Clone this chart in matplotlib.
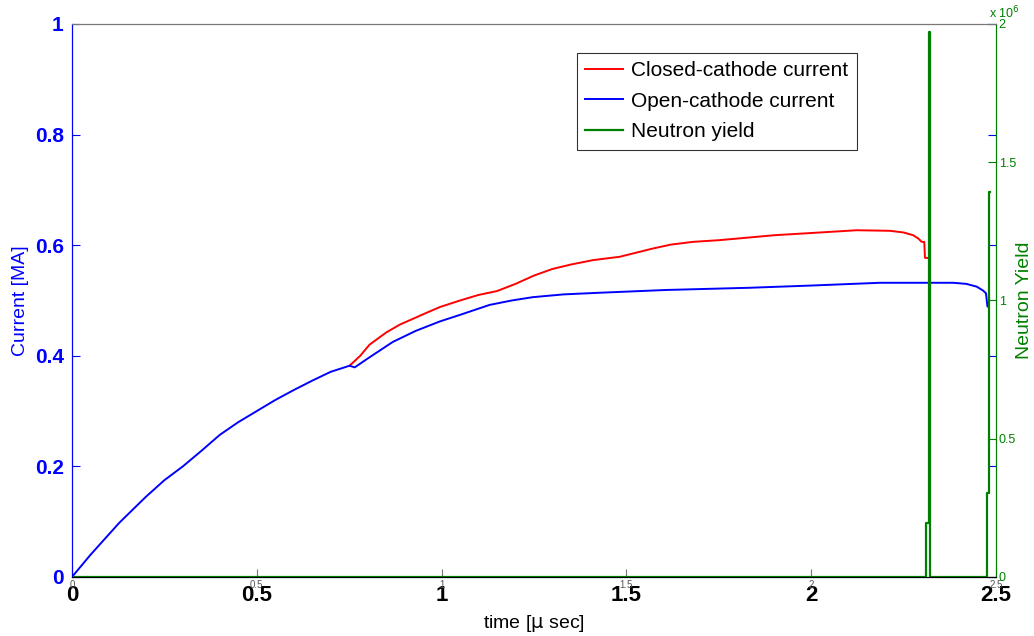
import numpy as np
import matplotlib
matplotlib.use('Agg')
import matplotlib.pyplot as plt

plt.rcParams['font.family'] = ['Liberation Sans', 'DejaVu Sans']

# ── Data ─────────────────────────────────────────────────────────────────────
t_open = [0.0, 0.05, 0.128, 0.2, 0.25, 0.30, 0.35, 0.40, 0.45, 0.50, 0.55,
          0.60, 0.65, 0.70, 0.751, 0.765, 0.80, 0.868, 0.93, 0.995, 1.05,
          1.13, 1.19, 1.247, 1.33, 1.428, 1.50, 1.608, 1.834, 2.0, 2.186,
          2.384, 2.42, 2.448, 2.465, 2.473, 2.477, 2.48]
i_open = [0.0, 0.04, 0.098, 0.145, 0.175, 0.20, 0.228, 0.257, 0.28, 0.30,
          0.32, 0.338, 0.355, 0.371, 0.382, 0.379, 0.395, 0.425, 0.445,
          0.462, 0.474, 0.492, 0.500, 0.506, 0.511, 0.514, 0.516, 0.519,
          0.523, 0.527, 0.532, 0.532, 0.530, 0.525, 0.518, 0.513, 0.489, 0.489]

t_closed = [0.751, 0.78, 0.805, 0.85, 0.886, 0.95, 0.995, 1.05, 1.10, 1.15,
            1.20, 1.25, 1.30, 1.35, 1.41, 1.482, 1.53, 1.572, 1.62, 1.68,
            1.75, 1.834, 1.90, 2.0, 2.123, 2.213, 2.25, 2.276, 2.29, 2.299,
            2.306, 2.308, 2.316]
i_closed = [0.382, 0.40, 0.42, 0.442, 0.456, 0.475, 0.488, 0.50, 0.51, 0.517,
            0.53, 0.545, 0.557, 0.565, 0.573, 0.579, 0.587, 0.594, 0.601,
            0.606, 0.609, 0.614, 0.618, 0.622, 0.627, 0.626, 0.623, 0.618,
            0.612, 0.606, 0.606, 0.577, 0.577]

t_neutron = [0.0, 2.310, 2.320, 2.321, 2.477, 2.481, 2.483]
y_neutron = [0.0, 0.194e6, 1.972e6, 0.0, 0.303e6, 1.391e6, 1.391e6]

x_ticks = [0, 0.5, 1, 1.5, 2, 2.5]
x_ticklabels = ['0', '0.5', '1', '1.5', '2', '2.5']
y_ticks = [0, 0.2, 0.4, 0.6, 0.8, 1]
y_ticklabels = ['0', '0.2', '0.4', '0.6', '0.8', '1']
y2_ticks = [0, 0.5e6, 1e6, 1.5e6, 2e6]
y2_ticklabels = ['0', '0.5', '1', '1.5', '2']

BLUE = '#0000ff'
RED = '#ff0000'
GREEN = '#008000'

# ── Figure ───────────────────────────────────────────────────────────────────
fig = plt.figure(figsize=(10.34, 6.36), dpi=100)
ax = fig.add_axes([0.0696, 0.0928, 0.8936, 0.8695])
ax2 = ax.twinx()

l1, = ax.plot(t_closed, i_closed, color=RED, lw=1.4, label='Closed-cathode current')
l2, = ax.plot(t_open, i_open, color=BLUE, lw=1.4, label='Open-cathode current')
l3, = ax2.plot(t_neutron, y_neutron, color=GREEN, lw=1.6,
               drawstyle='steps-post', label='Neutron yield')

ax.set_xlim(0, 2.5)
ax.set_ylim(0, 1)
ax2.set_ylim(0, 2e6)

ax.set_xticks(x_ticks)
ax.set_xticklabels(x_ticklabels, fontsize=16, fontweight='bold')
ax.set_yticks(y_ticks)
ax.set_yticklabels(y_ticklabels, fontsize=15, fontweight='bold', color=BLUE)
ax.tick_params(axis='x', direction='in', length=6, color='#777777', pad=6)
ax.tick_params(axis='y', direction='in', length=6, color=BLUE, right=True, pad=6)

# small grey x labels of the second axes, as in the original export
ax2.xaxis.set_visible(True)
ax2.set_xticks(x_ticks)
ax2.set_xticklabels(x_ticklabels, fontsize=7, color='#555555')
ax2.tick_params(axis='x', direction='in', length=0, pad=2)

ax2.set_yticks(y2_ticks)
ax2.set_yticklabels(y2_ticklabels, fontsize=9, color=GREEN)
ax2.tick_params(axis='y', direction='in', length=6, color=GREEN, pad=2)
ax2.text(0.992, 1.005, r'x 10$^6$', transform=ax2.transAxes, color=GREEN,
         fontsize=9, ha='left', va='bottom')

ax.set_xlabel(r'time [$\mathrm{\mu}$ sec]', fontsize=14, labelpad=5)
ax.set_ylabel('Current [MA]', fontsize=14, color=BLUE, labelpad=4)
ax2.set_ylabel('Neutron Yield', fontsize=14, color=GREEN, labelpad=0)

for a in (ax, ax2):
    a.spines['top'].set_color('#777777')
    a.spines['bottom'].set_color('black')
    a.spines['left'].set_color(BLUE)
    a.spines['right'].set_color(GREEN)

leg = ax.legend(handles=[l1, l2, l3], loc='upper left',
                bbox_to_anchor=(0.5465, 0.9476), fontsize=15, frameon=True,
                fancybox=False, edgecolor='black', handlelength=1.8,
                borderpad=0.4, labelspacing=0.55, handletextpad=0.4,
                borderaxespad=0)
leg.get_frame().set_linewidth(0.8)
leg.set_zorder(10)

fig.savefig('out.png', dpi=100)
